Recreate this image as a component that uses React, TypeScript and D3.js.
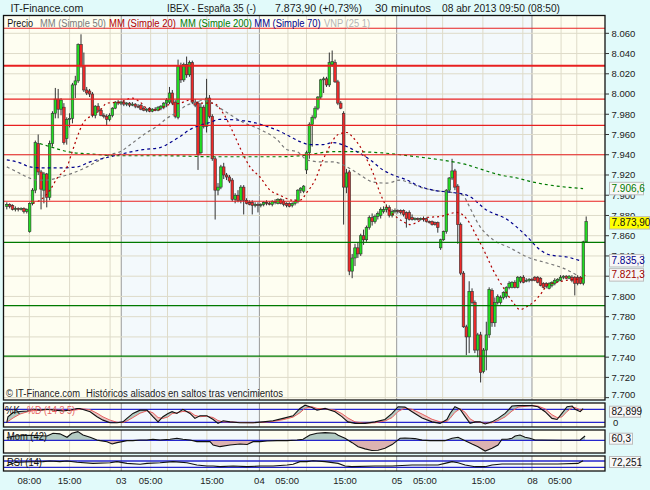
import * as d3 from "d3";

type OHLC = [number, number, number, number];
type Pt = [number, number];

// 30-minute bars, [open, high, low, close]
const DAY_02: OHLC[] = [
  [7889, 7893, 7886, 7891], [7891, 7892, 7887, 7889], [7890, 7891, 7885, 7886], [7886, 7889, 7884, 7887],
  [7887, 7888, 7884, 7886], [7886, 7888, 7885, 7887], [7887, 7888, 7882, 7884], [7884, 7887, 7882, 7886],
  [7864, 7893, 7863, 7892], [7892, 7907, 7890, 7905], [7905, 7954, 7902, 7952], [7951, 7960, 7920, 7923],
  [7923, 7925, 7886, 7906], [7905, 7923, 7892, 7921], [7921, 7922, 7888, 7898], [7898, 7954, 7895, 7951],
  [7951, 7983, 7948, 7981], [7981, 8006, 7976, 7995], [7995, 8005, 7976, 7985], [7985, 7996, 7979, 7994],
  [7987, 7991, 7950, 7952], [7956, 7977, 7950, 7975], [7975, 7981, 7967, 7976], [7976, 8011, 7971, 8009],
  [8009, 8018, 7996, 8013], [8013, 8050, 8011, 8049], [8049, 8059, 8026, 8028], [8028, 8041, 8002, 8004],
  [8004, 8007, 7999, 8001], [8003, 8005, 7997, 8000], [8000, 8002, 7977, 7979], [7979, 7989, 7976, 7988],
  [7988, 7991, 7982, 7984], [7984, 7986, 7978, 7979], [7979, 7981, 7976, 7978], [7978, 7980, 7969, 7975],
  [7975, 7981, 7973, 7979], [7979, 7987, 7977, 7986], [7986, 7993, 7985, 7992], [7992, 7994, 7989, 7991],
];
const DAY_03: OHLC[] = [
  [7991, 7993, 7989, 7992], [7992, 7994, 7988, 7990], [7990, 7992, 7988, 7991], [7991, 7992, 7987, 7989],
  [7989, 7992, 7988, 7990], [7990, 7991, 7986, 7988], [7988, 7990, 7986, 7987], [7989, 7990, 7984, 7985],
  [7986, 7988, 7983, 7984], [7984, 7986, 7982, 7985], [7986, 7987, 7982, 7983], [7983, 7986, 7982, 7985],
  [7985, 7987, 7983, 7984], [7984, 7988, 7983, 7987], [7986, 7989, 7984, 7988], [7987, 7992, 7985, 7991],
  [7991, 7996, 7987, 7994], [7992, 8007, 7990, 8001], [8001, 8004, 7989, 7991], [7992, 7994, 7976, 7978],
  [7977, 8034, 7975, 8027], [8027, 8031, 8011, 8014], [8014, 8031, 8012, 8029], [8029, 8037, 8016, 8019],
  [8019, 8033, 8017, 8031], [8031, 8033, 7990, 7992], [7992, 7995, 7987, 7989], [7991, 7993, 7925, 7940],
  [7942, 7991, 7940, 7987], [7987, 7989, 7966, 7968], [7968, 8015, 7962, 7996], [7996, 7999, 7976, 7978],
  [7978, 7980, 7934, 7936], [7936, 7938, 7876, 7905], [7905, 7912, 7900, 7908], [7908, 7930, 7906, 7928],
  [7928, 7932, 7916, 7920], [7920, 7922, 7915, 7918], [7918, 7920, 7912, 7914], [7915, 7917, 7894, 7896],
  [7896, 7902, 7892, 7900], [7900, 7905, 7893, 7895], [7895, 7910, 7892, 7908], [7908, 7910, 7881, 7895],
  [7895, 7897, 7891, 7892], [7893, 7895, 7890, 7891], [7893, 7895, 7881, 7890], [7891, 7893, 7888, 7891],
];
const DAY_04: OHLC[] = [
  [7891, 7893, 7883, 7890], [7890, 7892, 7888, 7891], [7891, 7894, 7889, 7893], [7893, 7895, 7890, 7892],
  [7892, 7894, 7890, 7891], [7891, 7895, 7889, 7894], [7894, 7896, 7891, 7893], [7892, 7897, 7891, 7896],
  [7896, 7897, 7891, 7892], [7894, 7896, 7889, 7891], [7892, 7893, 7888, 7890], [7892, 7893, 7888, 7889],
  [7890, 7893, 7888, 7892], [7892, 7896, 7890, 7894], [7894, 7906, 7892, 7905], [7905, 7908, 7902, 7907],
  [7904, 7910, 7902, 7909], [7925, 7944, 7921, 7942], [7942, 7972, 7936, 7970], [7970, 7979, 7948, 7977],
  [7977, 7988, 7975, 7986], [7986, 7998, 7984, 7997], [7997, 8015, 7995, 8014], [8014, 8017, 8001, 8015],
  [8015, 8017, 8007, 8009], [8009, 8041, 8007, 8031], [8029, 8043, 8027, 8032], [8031, 8034, 8011, 8012],
  [8012, 8014, 7989, 7991], [7991, 7993, 7985, 7986], [7981, 7983, 7871, 7908], [7908, 7926, 7902, 7922],
  [7923, 7925, 7821, 7825], [7825, 7842, 7818, 7838], [7838, 7852, 7830, 7848], [7848, 7853, 7838, 7842],
  [7842, 7862, 7840, 7860], [7860, 7866, 7851, 7856], [7856, 7870, 7854, 7868], [7868, 7880, 7866, 7878],
  [7878, 7882, 7870, 7874], [7874, 7881, 7872, 7879], [7879, 7884, 7876, 7882], [7880, 7888, 7877, 7886],
  [7884, 7889, 7882, 7886], [7886, 7891, 7883, 7888], [7888, 7890, 7878, 7880], [7880, 7886, 7878, 7884],
];
const DAY_05: OHLC[] = [
  [7884, 7887, 7882, 7885], [7885, 7886, 7882, 7884], [7885, 7886, 7881, 7883], [7885, 7886, 7879, 7881],
  [7883, 7884, 7868, 7877], [7883, 7885, 7875, 7876], [7878, 7881, 7875, 7876], [7876, 7878, 7875, 7877],
  [7877, 7878, 7875, 7876], [7876, 7878, 7875, 7877], [7877, 7879, 7874, 7876], [7877, 7878, 7873, 7874],
  [7874, 7875, 7872, 7873], [7874, 7875, 7870, 7871], [7873, 7874, 7870, 7871], [7873, 7874, 7863, 7868],
  [7848, 7857, 7846, 7856], [7856, 7865, 7855, 7864], [7864, 7906, 7862, 7905], [7905, 7918, 7903, 7917],
  [7917, 7936, 7915, 7924], [7924, 7926, 7905, 7908], [7909, 7911, 7852, 7871], [7871, 7873, 7821, 7823],
  [7823, 7825, 7769, 7770], [7770, 7772, 7742, 7760], [7760, 7815, 7744, 7805], [7805, 7808, 7792, 7794],
  [7794, 7796, 7744, 7747], [7747, 7764, 7740, 7762], [7762, 7765, 7715, 7725], [7726, 7749, 7724, 7747],
  [7747, 7775, 7727, 7762], [7762, 7809, 7759, 7807], [7806, 7808, 7770, 7774], [7774, 7799, 7770, 7794],
  [7794, 7802, 7792, 7800], [7794, 7801, 7792, 7799], [7799, 7805, 7797, 7804], [7800, 7810, 7798, 7809],
  [7809, 7815, 7807, 7813], [7809, 7815, 7808, 7814], [7814, 7816, 7808, 7809], [7809, 7820, 7808, 7819],
  [7815, 7820, 7813, 7819], [7819, 7821, 7813, 7814], [7815, 7818, 7814, 7816], [7816, 7818, 7814, 7817],
];
const DAY_08: OHLC[] = [
  [7817, 7818, 7815, 7816], [7819, 7820, 7815, 7816], [7819, 7820, 7813, 7814], [7818, 7819, 7810, 7811],
  [7813, 7814, 7808, 7809], [7813, 7814, 7808, 7810], [7808, 7814, 7807, 7813], [7811, 7815, 7809, 7814],
  [7813, 7818, 7811, 7816], [7815, 7818, 7814, 7817], [7816, 7821, 7815, 7819], [7819, 7821, 7817, 7820],
  [7820, 7821, 7817, 7818], [7818, 7821, 7817, 7820], [7819, 7821, 7814, 7816], [7819, 7820, 7801, 7813],
  [7819, 7821, 7811, 7813], [7819, 7820, 7812, 7813], [7813, 7855, 7811, 7854], [7854, 7879, 7853, 7873.9],
];
const CANDLES: OHLC[] = [...DAY_02, ...DAY_03, ...DAY_04, ...DAY_05, ...DAY_08];

// moving averages, [bar, value]
const SMA_20: Pt[] = [
  [9.2, 7892], [11.6, 7895], [15.1, 7905], [17.9, 7918], [21.1, 7928], [22.8, 7942], [24.6, 7957], [26.7, 7971],
  [29.9, 7979], [32.7, 7984], [35.1, 7991], [39.7, 7992], [43.9, 7996], [46.7, 7992], [49.1, 7986], [52.6, 7984],
  [56.1, 7989], [60.7, 7991], [64.2, 7994], [67.7, 7991], [72.3, 7991], [75.8, 7981], [79.3, 7962], [81.7, 7947],
  [85.2, 7928], [88.7, 7918], [92.2, 7905], [95.7, 7900], [100.3, 7895], [102.7, 7895], [105.2, 7903], [108, 7915],
  [110.8, 7935], [112.5, 7945], [116.1, 7960], [119.2, 7962], [121.3, 7957], [123.8, 7948], [126.2, 7935],
  [128.3, 7922], [130.8, 7902], [133.2, 7888], [136.7, 7878], [138.8, 7874], [141.3, 7871], [147.2, 7878],
  [151.8, 7879], [157.7, 7883], [161.3, 7876], [164.7, 7859], [167.6, 7843], [170.4, 7826], [173.9, 7809],
  [177.4, 7794], [179.8, 7787], [182.3, 7790], [184.4, 7794], [187.5, 7804], [189.3, 7811], [192.8, 7814],
  [196.3, 7816], [201.6, 7818], [202.6, 7821.3],
];
const SMA_50: Pt[] = [
  [0, 7928], [3.6, 7923], [7.1, 7918], [10.6, 7915], [14.1, 7915], [18.6, 7918], [23.2, 7922], [28.1, 7928],
  [32.7, 7935], [36.2, 7940], [39.7, 7943], [44.2, 7952], [49.1, 7962], [52.6, 7968], [56.1, 7976], [59.6, 7982],
  [63.1, 7989], [66.6, 7992], [68.7, 7994], [71.2, 7992], [75.8, 7984], [82.8, 7972], [88.7, 7965], [94.7, 7955],
  [98.2, 7945], [101.7, 7943], [105.2, 7935], [109.7, 7933], [114.3, 7933], [119.2, 7928], [123.8, 7920],
  [128.3, 7913], [133.2, 7912], [137.8, 7915], [141.3, 7912], [144.8, 7908], [149.3, 7905], [155.3, 7903],
  [159.9, 7900], [161.3, 7893], [165.8, 7869], [170.4, 7856], [176.3, 7848], [182.3, 7839], [189.3, 7833],
  [194.9, 7828], [199.8, 7821],
];
const SMA_200: Pt[] = [
  [11.6, 7951], [15.1, 7948], [18.6, 7945], [23.2, 7942], [28.1, 7941], [32.7, 7940], [37.2, 7939], [44.2, 7939],
  [56.1, 7939], [72.3, 7938], [95.7, 7938], [102.7, 7939], [114.3, 7943], [120.3, 7943], [130.8, 7942],
  [137.8, 7940], [143.7, 7938], [149.3, 7936], [156.4, 7933], [161.3, 7930], [166.9, 7925], [172.8, 7920],
  [178.8, 7917], [184.4, 7913], [190.3, 7910], [201.9, 7906.6],
];
const SMA_70: Pt[] = [
  [0, 7935], [4.6, 7932], [8.1, 7928], [12.7, 7927], [18.6, 7927], [24.6, 7928], [29.2, 7933], [36.2, 7938],
  [42.1, 7942], [47.7, 7945], [53.7, 7947], [57.2, 7952], [60.7, 7958], [64.2, 7965], [67.7, 7969], [71.2, 7972],
  [74.7, 7975], [81.7, 7974], [86.3, 7972], [91.2, 7968], [95.7, 7963], [99.2, 7958], [102.7, 7953], [106.2, 7950],
  [110.8, 7950], [114.3, 7952], [119.2, 7948], [122.7, 7943], [127.3, 7935], [131.8, 7925], [135.3, 7920],
  [140.2, 7915], [143.7, 7910], [149.3, 7905], [155.3, 7903], [161.3, 7900], [168.3, 7885], [175.3, 7876],
  [182.3, 7859], [186.8, 7846], [190.3, 7841], [196.3, 7839], [200.9, 7835.3],
];

const RESISTANCE = [8065, 8028, 7995, 7969, 7940, 7894];
const SUPPORT = [7853.5, 7791, 7741];
const STRONG_LEVEL = 8028;

// oscillators, [bar, value]
const STOCH_K: Pt[] = [
  [0, 18], [0.4, 45], [2.2, 65], [4.6, 70], [7.1, 72], [9.2, 80], [11.6, 76], [14.1, 80], [16.9, 76], [19.7, 72],
  [22.1, 76], [24.6, 84], [25.6, 84], [29.2, 69], [31.6, 46], [33.7, 30], [36.2, 18], [38.6, 18], [40.7, 22],
  [42.1, 38], [44.2, 61], [46.7, 76], [49.1, 76], [51.2, 46], [53, 22], [54.7, 46], [56.5, 61], [57.9, 69],
  [59.6, 61], [61.7, 80], [64.2, 61], [65.9, 38], [67.7, 50], [70.1, 50], [72.3, 33], [74, 15], [75.8, 27],
  [78.2, 22], [81.7, 18], [86.3, 18], [89.8, 22], [93.3, 27], [96.8, 38], [100.3, 50], [102.7, 84], [104.5, 99],
  [106.9, 88], [108.7, 76], [111.5, 84], [115, 69], [117.4, 46], [119.5, 22], [122, 15], [125.5, 15], [129, 22],
  [132.5, 33], [135, 61], [137.1, 92], [139.5, 90], [142, 69], [145.5, 40], [149, 22], [151.8, 15], [154.2, 33],
  [155.3, 61], [157, 92], [158.8, 80], [160.6, 46], [162.3, 15], [164.1, 22], [165.8, 22], [167.6, 12], [170, 22],
  [172.1, 38], [174.6, 61], [177, 95], [179.1, 97], [184, 97], [186.1, 92], [188.6, 69], [191, 38], [192.8, 33],
  [194.5, 61], [196.3, 92], [198.1, 95], [199.1, 80], [200.9, 69], [201.9, 82.9],
];
const STOCH_D: Pt[] = [
  [0, 20], [2.2, 40], [4.6, 58], [7.1, 68], [9.2, 74], [11.6, 76], [14.1, 78], [16.9, 78], [19.7, 75], [22.1, 74],
  [24.6, 78], [26.7, 82], [29.2, 78], [31.6, 62], [33.7, 45], [36.2, 30], [38.6, 20], [40.7, 19], [42.1, 26],
  [44.2, 42], [46.7, 62], [49.1, 73], [51.2, 64], [53, 42], [54.7, 38], [56.5, 45], [57.9, 60], [59.6, 64],
  [61.7, 70], [64.2, 68], [65.9, 52], [67.7, 46], [70.1, 48], [72.3, 42], [74, 28], [75.8, 22], [78.2, 22],
  [81.7, 19], [86.3, 18], [89.8, 20], [93.3, 24], [96.8, 32], [100.3, 44], [102.7, 64], [104.5, 85], [106.9, 92],
  [108.7, 84], [111.5, 82], [115, 76], [117.4, 60], [119.5, 40], [122, 22], [125.5, 16], [129, 18], [132.5, 26],
  [135, 42], [137.1, 70], [139.5, 86], [142, 80], [145.5, 58], [149, 34], [151.8, 22], [154.2, 24], [155.3, 38],
  [157, 66], [158.8, 82], [160.6, 66], [162.3, 36], [164.1, 22], [165.8, 20], [167.6, 16], [170, 18], [172.1, 28],
  [174.6, 45], [177, 72], [179.1, 90], [184, 97], [186.1, 95], [188.6, 82], [191, 55], [192.8, 42], [194.5, 45],
  [196.3, 70], [198.1, 88], [199.1, 88], [200.9, 78], [201.9, 78],
];
const MOMENTUM: Pt[] = [
  [0, 40], [2.9, 60], [8.1, 70], [14.1, 60], [16.2, 98], [18.6, 90], [21.1, 42], [22.8, 98], [24.9, 121],
  [26.7, 74], [29.2, 42], [31.6, 4], [32.7, -5], [35.1, -19], [36.9, -52], [38.6, -33], [40.4, -19], [42.1, -5],
  [44.2, -5], [46.7, 4], [49.1, 4], [51.2, 14], [53.7, 4], [57.2, 14], [59.6, 28], [61.7, 14], [64.2, 4],
  [66.6, -19], [68.7, -19], [71.2, -19], [72.3, -66], [74.7, -89], [78.2, -66], [81.7, -52], [84.2, -59],
  [86.3, -19], [88.7, -19], [91.2, -10], [94.7, -5], [98.2, -5], [101.7, 4], [103.8, 14], [106.2, 74], [108.7, 98],
  [111.5, 107], [115, 98], [116.1, 70], [118.5, 28], [121, -33], [123.1, -89], [125.5, -120], [127.9, -143],
  [130.1, -140], [132.5, -112], [135, -60], [137.8, 28], [139.5, 30], [141.3, 28], [143, 24], [145.5, 3],
  [148.3, -5], [151.8, -5], [153.5, -5], [156, 28], [158.1, 42], [160.6, -5], [163, -52], [165.1, -89],
  [167.6, -150], [170, -112], [172.1, -66], [173.5, 14], [175.3, 14], [177, 28], [178.1, 60], [179.8, 74],
  [181.6, 42], [183.3, 28], [185.1, 4], [187.5, 4], [194, 0], [200.9, 4], [202.6, 60.3],
];
const RSI: Pt[] = [
  [0, 40], [2.9, 60], [8.1, 65], [12.7, 66], [15.1, 70], [18.6, 66], [21.1, 70], [24.6, 62], [30.2, 55],
  [36.2, 59], [38.6, 66], [42.1, 55], [46.7, 49], [49.1, 55], [53.7, 59], [58.2, 66], [63.1, 59], [66.6, 45],
  [70.1, 38], [72.3, 38], [74.7, 34], [79.3, 38], [84.2, 34], [88.7, 38], [93.3, 38], [98.2, 45], [100.3, 49],
  [102.7, 66], [105.2, 66], [107.3, 72], [111.5, 66], [116.1, 55], [118.5, 38], [120.9, 34], [129, 38], [135, 38],
  [142, 45], [151.1, 45], [153.5, 55], [156, 66], [158.1, 59], [160.6, 45], [164.1, 34], [167.6, 34], [170, 45],
  [173.5, 51], [181.6, 51], [193.1, 51], [200.1, 55], [201.9, 72.251],
];

const PRICE_TICKS = [7700, 7720, 7740, 7760, 7780, 7800, 7820, 7840, 7860, 7880, 7900, 7920, 7940, 7960, 7980, 8000, 8020, 8040, 8060];
const TIME_TICKS: [string, number][] = [
  ["08:00", 7.9], ["15:00", 22], ["03", 40.1], ["05:00", 50.4], ["15:00", 71.9], ["04", 88.5], ["05:00", 98.2],
  ["15:00", 118.5], ["05", 136.7], ["05:00", 146.5], ["15:00", 167], ["08", 184.2], ["05:00", 193.8],
];
const GRID_BARS = [7.9, 22, 36.2, 50.4, 56.3, 70.1, 84.3, 98.5, 105, 118.6, 132.6, 147.1, 152.7, 166.8, 180.8, 194.2, 199.7];
const DAY_BREAKS = [40.1, 88.5, 136.6, 184];

const LAST_PRICE = 7873.9;
const LAST_SMA200 = 7906.6;
const LAST_SMA70 = 7835.3;
const LAST_SMA20 = 7821.3;
const LAST_K = 82.899;
const LAST_MOM = 60.3;
const LAST_RSI = 72.251;

const W = 650;
const H = 490;
const LEFT = 3.5;
const RIGHT = 605;
const MAIN = { top: 15.5, bottom: 400 };
const PK = { top: 403, bottom: 427 };
const PM = { top: 430, bottom: 453 };
const PR = { top: 456, bottom: 471 };
const FONT = "'Liberation Sans', Arial, sans-serif";
const CREAM = "#fefef1";
const PALE = "#f3f9fc";
const GRID = "#dedbc9";

const es = d3.formatLocale({ decimal: ",", thousands: ".", grouping: [3], currency: ["", "€"] });
const fmtTick = es.format(",d");

function Box({ y, w, h, text, color, fill }: { y: number; w: number; h: number; text: string; color: string; fill: string }) {
  return (
    <g>
      <rect x={609.5} y={y - h / 2} width={w} height={h} fill={fill} stroke="#bdbdbd" strokeWidth={1} />
      <text x={611.5} y={y + 3.6} fontSize={10} fill={color} fontFamily={FONT}>
        {text}
      </text>
    </g>
  );
}

export default function App() {
  const x = d3.scaleLinear().domain([0, 203]).range([6.8, 586.2]);
  const yP = d3.scaleLinear().domain([7720, 8060]).range([377.4, 33.3]);
  const yK = d3.scaleLinear().domain([20, 80]).range([422.3, 409.3]);
  const yM = d3.scaleLinear().domain([-200, 200]).range([454.6, 426]);
  const yR = d3.scaleLinear().domain([30, 70]).range([467.3, 461]);

  const maLine = d3.line<Pt>().x((d) => x(d[0])).y((d) => yP(d[1])).curve(d3.curveMonotoneX);
  const lineOf = (ys: d3.ScaleLinear<number, number>) =>
    d3.line<Pt>().x((d) => x(d[0])).y((d) => ys(d[1])).curve(d3.curveLinear);
  const areaOf = (ys: d3.ScaleLinear<number, number>, base: number) =>
    d3.area<Pt>().x((d) => x(d[0])).y0(base).y1((d) => ys(d[1])).curve(d3.curveLinear);

  const edges = [LEFT, ...DAY_BREAKS.map((b) => x(b)), RIGHT];
  const panels = [MAIN, PK, PM, PR];

  const bw = 2.6;

  return (
    <div style={{ position: "absolute", left: 0, top: 0 }}>
      <svg width={W} height={H} viewBox={`0 0 ${W} ${H}`} style={{ display: "block" }}>
        <defs>
          {panels.map((p, i) => (
            <clipPath id={`panel-${i}`} key={i}>
              <rect x={LEFT} y={p.top} width={RIGHT - LEFT} height={p.bottom - p.top} />
            </clipPath>
          ))}
          <clipPath id="above-d">
            <path d={areaOf(yK, PK.top)(STOCH_D) ?? ""} />
          </clipPath>
          <clipPath id="below-d">
            <path d={areaOf(yK, PK.bottom)(STOCH_D) ?? ""} />
          </clipPath>
          <clipPath id="mom-pos">
            <rect x={LEFT} y={PM.top} width={RIGHT - LEFT} height={yM(0) - PM.top} />
          </clipPath>
          <clipPath id="mom-neg">
            <rect x={LEFT} y={yM(0)} width={RIGHT - LEFT} height={PM.bottom - yM(0)} />
          </clipPath>
        </defs>

        <rect x={0} y={0} width={W} height={H} fill="#e1fafa" />

        {/* day shading and vertical grid in every panel */}
        {panels.map((p, pi) => (
          <g key={pi}>
            {edges.slice(0, -1).map((e, i) => (
              <rect key={i} x={e} y={p.top} width={edges[i + 1] - e} height={p.bottom - p.top} fill={i % 2 === 0 ? CREAM : PALE} />
            ))}
            {GRID_BARS.map((g) => (
              <line key={g} x1={x(g)} x2={x(g)} y1={p.top} y2={p.bottom} stroke={GRID} strokeWidth={1} />
            ))}
            {DAY_BREAKS.map((b) => (
              <line key={b} x1={x(b)} x2={x(b)} y1={p.top} y2={p.bottom} stroke="#9a9a9a" strokeWidth={1} />
            ))}
          </g>
        ))}

        {/* main price panel */}
        <g clipPath="url(#panel-0)">
          {PRICE_TICKS.map((t) => (
            <line key={t} x1={LEFT} x2={RIGHT} y1={yP(t)} y2={yP(t)} stroke={GRID} strokeWidth={1} />
          ))}
          {CANDLES.map((c, i) => {
            const [o, h, l, cl] = c;
            const up = cl >= o;
            const top = yP(Math.max(o, cl));
            const bh = Math.max(1, yP(Math.min(o, cl)) - top);
            return (
              <g key={i}>
                <line x1={x(i)} x2={x(i)} y1={yP(h)} y2={yP(l)} stroke="#333" strokeWidth={1} />
                <rect x={x(i) - bw / 2} y={top} width={bw} height={bh} fill={up ? "#22dd22" : "#ee2a2a"} stroke="#333" strokeWidth={0.6} />
              </g>
            );
          })}
          <path d={maLine(SMA_50) ?? ""} fill="none" stroke="#777" strokeWidth={1.2} strokeDasharray="3,3" />
          <path d={maLine(SMA_200) ?? ""} fill="none" stroke="#007a00" strokeWidth={1.2} strokeDasharray="3,3" />
          <path d={maLine(SMA_70) ?? ""} fill="none" stroke="#00008c" strokeWidth={1.2} strokeDasharray="3,3" />
          <path d={maLine(SMA_20) ?? ""} fill="none" stroke="#b00000" strokeWidth={1.2} strokeDasharray="2,3" />
          {RESISTANCE.map((r) => (
            <line key={r} x1={LEFT} x2={RIGHT} y1={yP(r)} y2={yP(r)} stroke="#e82020" strokeWidth={r === STRONG_LEVEL ? 2 : 1.1} />
          ))}
          {SUPPORT.map((s) => (
            <line key={s} x1={LEFT} x2={RIGHT} y1={yP(s)} y2={yP(s)} stroke="#007a00" strokeWidth={1.2} />
          ))}
        </g>

        {/* legend */}
        <g fontFamily={FONT} fontSize={10}>
          <text x={7.3} y={27} textLength={25.7} lengthAdjust="spacingAndGlyphs" fill="#111">Precio</text>
          <text x={40} y={27} textLength={66} lengthAdjust="spacingAndGlyphs" fill="#7a7a7a">MM (Simple 50)</text>
          <text x={109} y={27} textLength={67} lengthAdjust="spacingAndGlyphs" fill="#b00000">MM (Simple 20)</text>
          <text x={180} y={27} textLength={72} lengthAdjust="spacingAndGlyphs" fill="#007a00">MM (Simple 200)</text>
          <text x={254.3} y={27} textLength={66.4} lengthAdjust="spacingAndGlyphs" fill="#00008c">MM (Simple 70)</text>
          <text x={324} y={27} textLength={46} lengthAdjust="spacingAndGlyphs" fill="#b4b4b4">VNP (25 1)</text>
          <text x={6} y={397} textLength={74} lengthAdjust="spacingAndGlyphs" fill="#222">© IT-Finance.com</text>
          <text x={86} y={397} textLength={197} lengthAdjust="spacingAndGlyphs" fill="#222">Históricos alisados en saltos tras vencimientos</text>
        </g>

        {/* stochastic */}
        <g clipPath="url(#panel-1)">
          <path d={areaOf(yK, PK.bottom)(STOCH_K) ?? ""} fill="#b3cbc2" clipPath="url(#above-d)" />
          <path d={areaOf(yK, PK.top)(STOCH_K) ?? ""} fill="#e8c6c2" clipPath="url(#below-d)" />
          {[20, 80].map((v) => (
            <line key={v} x1={LEFT} x2={RIGHT} y1={yK(v)} y2={yK(v)} stroke="#2626cc" strokeWidth={1.3} />
          ))}
          <path d={lineOf(yK)(STOCH_D) ?? ""} fill="none" stroke="#e86060" strokeWidth={1} />
          <path d={lineOf(yK)(STOCH_K) ?? ""} fill="none" stroke="#111" strokeWidth={1.1} />
          <text x={5} y={413.5} fontSize={10} fontFamily={FONT} fill="#111" textLength={15} lengthAdjust="spacingAndGlyphs">%K</text>
          <text x={27} y={413.5} fontSize={10} fontFamily={FONT} fill="#e86060" textLength={48} lengthAdjust="spacingAndGlyphs">%D (14 3 5)</text>
        </g>

        {/* momentum */}
        <g clipPath="url(#panel-2)">
          <path d={areaOf(yM, yM(0))(MOMENTUM) ?? ""} fill="#b3cbc2" clipPath="url(#mom-pos)" />
          <path d={areaOf(yM, yM(0))(MOMENTUM) ?? ""} fill="#dcb3b1" clipPath="url(#mom-neg)" />
          <line x1={LEFT} x2={RIGHT} y1={yM(0)} y2={yM(0)} stroke="#2626cc" strokeWidth={1.3} />
          <path d={lineOf(yM)(MOMENTUM) ?? ""} fill="none" stroke="#111" strokeWidth={1.1} />
          <text x={7} y={440} fontSize={10} fontFamily={FONT} fill="#111" textLength={40} lengthAdjust="spacingAndGlyphs">Mom (42)</text>
        </g>

        {/* RSI */}
        <g clipPath="url(#panel-3)">
          {[30, 70].map((v) => (
            <line key={v} x1={LEFT} x2={RIGHT} y1={yR(v)} y2={yR(v)} stroke="#2626cc" strokeWidth={1.3} />
          ))}
          <path d={lineOf(yR)(RSI) ?? ""} fill="none" stroke="#111" strokeWidth={1.1} />
          <text x={7} y={465.5} fontSize={10} fontFamily={FONT} fill="#111" textLength={35} lengthAdjust="spacingAndGlyphs">RSI (14)</text>
        </g>

        {/* frames */}
        {panels.map((p, i) => (
          <rect key={i} x={LEFT} y={p.top} width={RIGHT - LEFT} height={p.bottom - p.top} fill="none" stroke="#111" strokeWidth={1.3} />
        ))}

        {/* price axis */}
        <g fontFamily={FONT} fontSize={9.5} fill="#222">
          {PRICE_TICKS.map((t) => (
            <g key={t}>
              <line x1={RIGHT} x2={RIGHT + 4} y1={yP(t)} y2={yP(t)} stroke="#333" strokeWidth={1} />
              <text x={611.5} y={Math.min(yP(t), 394.5) + 3.4}>{fmtTick(t)}</text>
            </g>
          ))}
          <text x={613} y={426}>0</text>
        </g>

        <Box y={yP(LAST_SMA200)} w={34} h={12.5} text={es.format(",.1f")(LAST_SMA200)} color="#007a00" fill="#f7f7f7" />
        <Box y={yP(LAST_PRICE) + 1.2} w={40} h={12.5} text={es.format(",.2f")(LAST_PRICE)} color="#111" fill="#ffff00" />
        <Box y={yP(LAST_SMA70)} w={34} h={12.5} text={es.format(",.1f")(LAST_SMA70)} color="#00008c" fill="#f7f7f7" />
        <Box y={yP(LAST_SMA20)} w={34} h={12.5} text={es.format(",.1f")(LAST_SMA20)} color="#a00000" fill="#f7f7f7" />
        <Box y={PK.top + 8.7} w={31} h={11} text={es.format(",.3f")(LAST_K)} color="#111" fill="#f7f7f7" />
        <Box y={PM.top + 8.7} w={23} h={11} text={es.format(",.1f")(LAST_MOM)} color="#111" fill="#f7f7f7" />
        <Box y={PR.top + 6} w={31} h={11} text={es.format(",.3f")(LAST_RSI)} color="#111" fill="#f7f7f7" />

        {/* time axis */}
        <g fontFamily={FONT} fontSize={9.5} fill="#222" textAnchor="middle">
          {TIME_TICKS.map(([label, b], i) => (
            <text key={i} x={x(b)} y={484}>{label}</text>
          ))}
        </g>

        {/* header */}
        <g fontFamily={FONT} fontSize={11} fill="#1a1a1a">
          <text x={10.4} y={12} textLength={72.9} lengthAdjust="spacingAndGlyphs">IT-Finance.com</text>
          <text x={167} y={12} textLength={89} lengthAdjust="spacingAndGlyphs">IBEX - España 35 (-)</text>
          <text x={275} y={12} textLength={87} lengthAdjust="spacingAndGlyphs">7.873,90 (+0,73%)</text>
          <text x={375} y={12} textLength={56} lengthAdjust="spacingAndGlyphs">30 minutos</text>
          <text x={442} y={12} textLength={118} lengthAdjust="spacingAndGlyphs">08 abr 2013 09:50 (08:50)</text>
        </g>
      </svg>
    </div>
  );
}
